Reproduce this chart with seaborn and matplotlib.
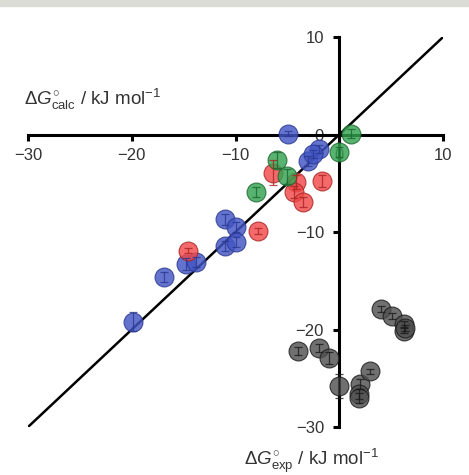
import numpy as np
import pandas as pd
import matplotlib
matplotlib.use("Agg")
import matplotlib.pyplot as plt
import seaborn as sns

# values (kJ/mol)
blue_x = [-4.9, -2.0, -3.0, -2.5, -11.0, -10.0, -11.0, -10.0, -14.8, -13.8, -16.9, -19.9]
blue_y = [0.1, -1.5, -2.7, -2.0, -8.7, -9.5, -11.4, -11.0, -13.3, -13.1, -14.6, -19.2]
blue_err = [0.3, 0.4, 0.5, 0.4, 0.6, 0.5, 0.5, 0.5, 0.6, 0.5, 0.5, 1.0]

red_x = [-6.4, -4.2, -4.4, -3.5, -1.7, -7.8, -14.6]
red_y = [-3.9, -4.9, -5.9, -6.9, -4.8, -9.9, -11.9]
red_err = [1.3, 0.7, 0.6, 0.5, 0.6, 0.3, 0.3]

green_x = [-6.0, -5.0, -8.0, 0.0, 1.1]
green_y = [-2.6, -4.3, -5.9, -1.8, 0.1]
green_err = [0.8, 0.8, 0.5, 0.5, 0.5]

black_x = [-4.0, -2.0, -1.0, 0.0, 2.0, 3.0, 1.9, 1.9, 4.0, 5.1, 6.2, 6.2, 6.3]
black_y = [-22.2, -21.9, -22.9, -25.8, -25.6, -24.3, -26.6, -27.0, -17.9, -18.6, -19.4, -20.1, -19.8]
black_err = [0.4, 0.4, 0.6, 1.2, 0.5, 0.3, 0.5, 0.5, 0.3, 0.3, 0.3, 0.3, 0.3]

groups = [
    (blue_x, blue_y, blue_err, "#4255c4", "#2a3890"),
    (red_x, red_y, red_err, "#f24848", "#a82424"),
    (green_x, green_y, green_err, "#33a350", "#1d6630"),
    (black_x, black_y, black_err, "#505050", "#1a1a1a"),
]

sns.set_style("white")
plt.rcParams['font.family'] = ['Liberation Sans', 'DejaVu Sans']
plt.rcParams['mathtext.fontset'] = 'custom'
plt.rcParams['mathtext.rm'] = 'Liberation Sans'
plt.rcParams['mathtext.it'] = 'Liberation Sans:italic'

fig = plt.figure(figsize=(4.69, 4.75), dpi=100)
ax = fig.add_axes([0.0597, 0.101, 0.885, 0.821])

# thin grey band at the top of the page
fig.patches.append(plt.Rectangle((0, 0.988), 1, 0.012, transform=fig.transFigure,
                                 color="#dcdcd6", zorder=0))

lims = [-30, 10]
ax.plot(lims, lims, color="black", lw=1.8, zorder=1)

for gx, gy, ge, fc, ec in groups:
    df = pd.DataFrame({"x": gx, "y": gy})
    sns.scatterplot(data=df, x="x", y="y", ax=ax, s=185, color=fc, alpha=0.82,
                    edgecolor=ec, linewidth=0.8, zorder=3, legend=False)
    ax.errorbar(gx, gy, yerr=ge, fmt="none", ecolor=ec, elinewidth=0.9,
                capsize=3, capthick=0.9, alpha=0.8, zorder=4)

ax.set_xlim(lims)
ax.set_ylim(lims)
ax.spines['left'].set_position(('data', 0))
ax.spines['bottom'].set_position(('data', 0))
ax.spines['right'].set_visible(False)
ax.spines['top'].set_visible(False)
for sp in ['left', 'bottom']:
    ax.spines[sp].set_linewidth(2.2)
    ax.spines[sp].set_color("black")
    ax.spines[sp].set_zorder(2)
ax.set_xticks([-30, -20, -10, 0, 10])
ax.set_yticks([-30, -20, -10, 0, 10])
ax.tick_params(axis='both', direction='out', length=4, width=2.2, labelsize=12,
               colors='black', labelcolor='#333333', left=True, bottom=True)
ax.tick_params(axis='x', pad=6)
ax.tick_params(axis='y', pad=7)
ax.set_xlabel("")
ax.set_ylabel("")

ax.text(-30.4, 3.6, r"$\Delta G^{\circ}_{\rm calc}$ / kJ mol$^{-1}$", fontsize=13.5,
        color="#333333", ha="left", va="center", clip_on=False)
ax.text(-9.2, -33.5, r"$\Delta G^{\circ}_{\rm exp}$ / kJ mol$^{-1}$", fontsize=13.5,
        color="#333333", ha="left", va="center", clip_on=False)

fig.savefig("out.png", dpi=100)
